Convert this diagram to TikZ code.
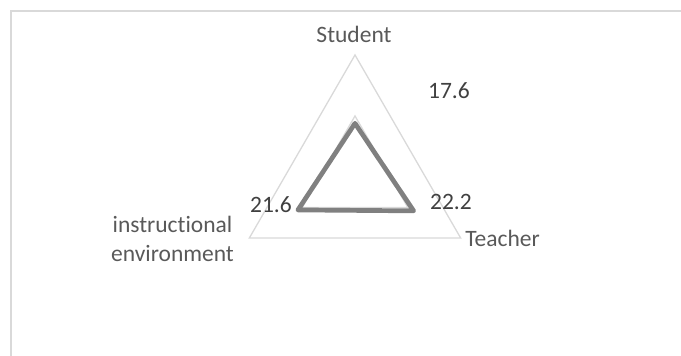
\documentclass[tikz,border=0pt]{standalone}
\usepackage{fontspec}
\setmainfont{Carlito}[Ligatures=NoCommon]
\definecolor{gridgray}{HTML}{D9D9D9}
\definecolor{linegray}{HTML}{808080}
\definecolor{labelgray}{HTML}{595959}
\definecolor{valgray}{HTML}{404040}
\begin{document}
\begin{tikzpicture}[x=1pt,y=1pt,
	lbl/.style={text=labelgray,font=\fontsize{23.5}{29}\selectfont,inner sep=0pt,anchor=base},
	val/.style={text=valgray,font=\fontsize{23.5}{29}\selectfont,inner sep=0pt,anchor=base}]
	\def \unit{122} % length of the 40 axis
	\def \maxv{40}
	\useasboundingbox (0,0) rectangle (681,356);
	\draw[gridgray, line width=2pt] (11,0) -- (11,345) -- (681,345); % chart frame
	\coordinate (c) at (355,179);
	% grid
	\foreach \r in {0.5,1}{\draw[gridgray, line width=1.3pt, shift={(c)}] (90:\r*\unit) -- (210:\r*\unit) -- (330:\r*\unit) -- cycle;};
	% data
	\coordinate (ds) at ([shift={(c)}]90:{\unit*17.6/\maxv});
	\coordinate (dt) at ([shift={(c)}]330:{\unit*22.2/\maxv});
	\coordinate (de) at ([shift={(c)}]210:{\unit*21.6/\maxv});
	\draw[linegray, line width=4.7pt, line join=round] (ds) -- (dt) -- (de) -- cycle;
	% axis labels
	\node[lbl] (student) at (354,313) {Student};
	\node[lbl] (teacher) at (502.5,109) {Teacher};
	\node[lbl, align=center] (envir) at (172.5,94) {instructional\\environment};
	% values
	\node[val] (vs) at (449,257) {17.6};
	\node[val] (vt) at (451,146) {22.2};
	\node[val] (ve) at (271,143) {21.6};
\end{tikzpicture}
\end{document}
